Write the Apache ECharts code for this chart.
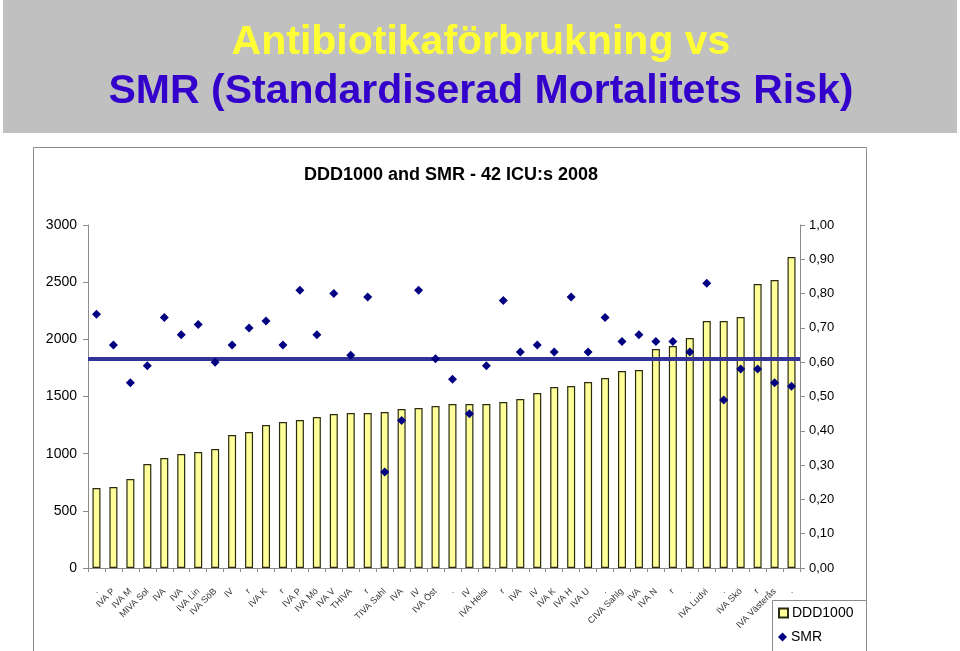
<!DOCTYPE html>
<html>
<head>
<meta charset="utf-8">
<script src="https://cdn.jsdelivr.net/npm/echarts@6/dist/echarts.min.js"></script>
<style>
html,body{margin:0;padding:0;background:#fff;}
#chart{width:960px;height:651px;}
</style>
</head>
<body>
<div id="chart"></div>
<script>
const titleLine1 = 'Antibiotikaförbrukning vs';
const titleLine2 = 'SMR (Standardiserad Mortalitets Risk)';
const chartTitle = 'DDD1000 and SMR - 42 ICU:s 2008';

const categories = [
  '.', 'IVA P', 'IVA M', 'MIVA Sol', 'IVA', 'IVA', 'IVA Lin', 'IVA SöB', 'IV', 'r',
  'IVA K', 'r', 'IVA P', 'IVA Mö', 'IVA V', 'THIVA', 'r', 'TIVA Sahl', 'IVA', 'IV',
  'IVA Öst', '.', 'IV', 'IVA Helsi', 'r', 'IVA', 'IV', 'IVA K', 'IVA H', 'IVA U',
  '.', 'CIVA Sahlg', 'IVA', 'IVA N', 'r', '.', 'IVA Ludvi', '.', 'IVA Skö', 'r',
  'IVA Västerås', '.'
];

const ddd1000 = [
  700, 709, 779, 910, 962, 997, 1015, 1041, 1163, 1190,
  1251, 1277, 1295, 1321, 1347, 1356, 1356, 1365, 1391, 1400,
  1417, 1435, 1435, 1435, 1452, 1478, 1531, 1583, 1592, 1627,
  1662, 1723, 1732, 1916, 1942, 2012, 2160, 2160, 2195, 2484,
  2519, 2720
];

const smr = [
  0.74, 0.65, 0.54, 0.59, 0.73, 0.68, 0.71, 0.60, 0.65, 0.70,
  0.72, 0.65, 0.81, 0.68, 0.80, 0.62, 0.79, 0.28, 0.43, 0.81,
  0.61, 0.55, 0.45, 0.59, 0.78, 0.63, 0.65, 0.63, 0.79, 0.63,
  0.73, 0.66, 0.68, 0.66, 0.66, 0.63, 0.83, 0.49, 0.58, 0.58,
  0.54, 0.53
];

const smrMean = 0.61;

const leftTicks = [0, 500, 1000, 1500, 2000, 2500, 3000];

const chart = echarts.init(document.getElementById('chart'), null, {renderer: 'canvas'});
const FONT = '"Liberation Sans", Arial, sans-serif';

const legendCommon = {
  left: 778,
  padding: 0,
  itemWidth: 9,
  itemHeight: 9,
  itemGap: 0,
  textStyle: {fontSize: 14, color: '#000', fontFamily: FONT, padding: [0, 0, 0, -1]}
};

const option = {
  backgroundColor: '#ffffff',
  animation: false,
  textStyle: {fontFamily: FONT},
  graphic: [
    {type: 'rect', z: -10, shape: {x: 3, y: 0, width: 954, height: 133}, style: {fill: '#c0c0c0'}},
    {type: 'rect', z: -10, shape: {x: 33.5, y: 147.5, width: 833, height: 520}, style: {fill: '#ffffff', stroke: '#8c8c8c', lineWidth: 1}},
    {type: 'rect', z: -5, shape: {x: 772.5, y: 600.5, width: 94, height: 60}, style: {fill: '#ffffff', stroke: '#8c8c8c', lineWidth: 1}},
    {type: 'text', x: 481, y: 43, style: {text: titleLine1, fill: '#ffff33', font: 'bold 41px ' + FONT, align: 'center', verticalAlign: 'middle'}},
    {type: 'text', x: 481, y: 92, style: {text: titleLine2, fill: '#3300cc', font: 'bold 41px ' + FONT, align: 'center', verticalAlign: 'middle'}},
    {type: 'text', x: 451, y: 175, style: {text: chartTitle, fill: '#000000', font: 'bold 18px ' + FONT, align: 'center', verticalAlign: 'middle'}}
  ],
  legend: [
    Object.assign({}, legendCommon, {top: 606, data: [{name: 'DDD1000', icon: 'rect'}]}),
    Object.assign({}, legendCommon, {top: 630, data: [{name: 'SMR', icon: 'diamond'}]})
  ],
  grid: {left: 88, right: 160, top: 225, bottom: 83, containLabel: false},
  xAxis: {
    type: 'category',
    data: categories,
    axisLine: {lineStyle: {color: '#8c8c8c', width: 1}},
    axisTick: {show: true, length: 4, lineStyle: {color: '#8c8c8c'}},
    axisLabel: {interval: 0, rotate: 45, fontSize: 9, color: '#333', margin: 22, fontFamily: FONT}
  },
  yAxis: [
    {
      type: 'value', min: 0, max: 3000, interval: 500,
      axisLine: {show: true, lineStyle: {color: '#8c8c8c'}},
      axisTick: {show: true, length: 5, lineStyle: {color: '#8c8c8c'}},
      splitLine: {show: false},
      axisLabel: {fontSize: 14, color: '#000', margin: 11,
        formatter: v => leftTicks.includes(v) ? String(v) : ''}
    },
    {
      type: 'value', min: 0, max: 1, interval: 0.1,
      axisLine: {show: true, lineStyle: {color: '#8c8c8c'}},
      axisTick: {show: true, length: 5, lineStyle: {color: '#8c8c8c'}},
      splitLine: {show: false},
      axisLabel: {fontSize: 13, color: '#000', margin: 9,
        formatter: v => v.toFixed(2).replace('.', ',')}
    }
  ],
  series: [
    {
      name: 'DDD1000',
      type: 'bar',
      yAxisIndex: 0,
      data: ddd1000,
      barWidth: 8,
      itemStyle: {color: '#ffff99', borderColor: '#2b2b10', borderWidth: 1.2}
    },
    {
      name: 'SMR',
      type: 'scatter',
      yAxisIndex: 1,
      data: smr,
      symbol: 'diamond',
      symbolSize: 9,
      itemStyle: {color: '#000080', opacity: 1},
      z: 5,
      markLine: {
        silent: true,
        symbol: ['none', 'none'],
        label: {show: false},
        lineStyle: {color: '#333399', width: 4, type: 'solid'},
        data: [{yAxis: smrMean}]
      }
    }
  ]
};
chart.setOption(option);
</script>
</body>
</html>
